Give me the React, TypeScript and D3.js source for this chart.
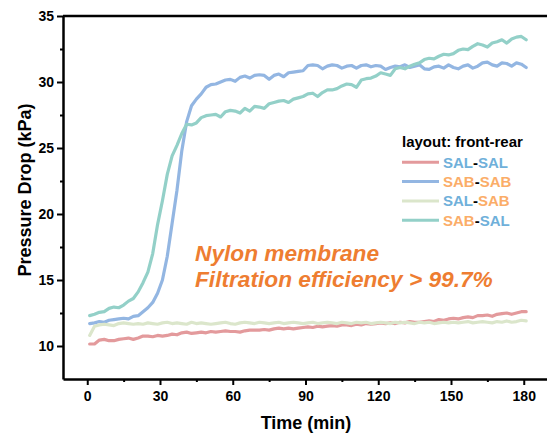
import React, { useEffect, useRef } from 'react';
import * as d3 from 'd3';

// sampling times (min)
const times = d3.range(1, 182, 2);

const salSal = [
  10.15, 10.15, 10.45, 10.5, 10.4, 10.4, 10.5, 10.55, 10.6, 10.5,
  10.6, 10.75, 10.75, 10.7, 10.8, 10.75, 10.8, 10.9, 10.85, 11.0,
  11.05, 10.95, 11.0, 11.05, 11.0, 11.1, 11.05, 11.1, 11.15, 11.1,
  11.1, 11.05, 11.15, 11.2, 11.2, 11.2, 11.25, 11.2, 11.3, 11.35,
  11.3, 11.35, 11.3, 11.35, 11.4, 11.45, 11.4, 11.5, 11.45, 11.5,
  11.55, 11.5, 11.6, 11.6, 11.55, 11.65, 11.6, 11.7, 11.65, 11.7,
  11.75, 11.7, 11.75, 11.7, 11.8, 11.75, 11.85, 11.8, 11.8, 11.85,
  11.9, 11.85, 12.0, 11.95, 12.05, 12.1, 12.05, 12.15, 12.2, 12.15,
  12.3, 12.3, 12.35, 12.25, 12.4, 12.45, 12.5, 12.4, 12.5, 12.6,
  12.6
];

const sabSab = [
  11.7, 11.75, 11.85, 11.8, 11.95, 12.0, 12.05, 12.1, 12.05, 12.25,
  12.3, 12.6, 12.9, 13.3, 14.0, 15.0, 16.8, 19.3, 21.8, 24.8,
  27.0, 28.2, 28.7, 29.1, 29.6, 29.8, 29.85, 30.0, 30.15, 30.2,
  30.05, 30.35, 30.45, 30.3, 30.5, 30.55, 30.5, 30.2, 30.5, 30.6,
  30.4, 30.7, 30.75, 30.8, 30.85, 31.25, 31.3, 31.25, 31.0, 31.2,
  31.3, 31.25, 31.05, 31.2, 31.25, 31.05, 31.25, 31.3, 31.15, 31.25,
  31.2, 30.95, 31.1, 31.2, 31.15, 31.3, 31.1, 31.2, 31.3, 31.0,
  30.95, 31.15, 31.2, 31.05, 31.3, 31.1, 31.0, 31.2, 31.3, 31.05,
  31.2, 31.45, 31.5, 31.3, 31.2, 31.45, 31.4, 31.2, 31.45, 31.35,
  31.1
];

const salSab = [
  10.8, 11.5, 11.6, 11.65, 11.6, 11.55, 11.7, 11.75, 11.7, 11.65,
  11.7, 11.65, 11.75, 11.7, 11.65, 11.75, 11.8, 11.7, 11.75, 11.7,
  11.65, 11.8, 11.7, 11.75, 11.7, 11.65, 11.7, 11.75, 11.8, 11.7,
  11.65, 11.75, 11.8, 11.75, 11.7, 11.8, 11.75, 11.7, 11.75, 11.8,
  11.7, 11.75, 11.8, 11.75, 11.7, 11.75, 11.8, 11.7, 11.75, 11.8,
  11.75, 11.7, 11.8, 11.75, 11.7, 11.8, 11.75, 11.8, 11.7, 11.75,
  11.8, 11.75, 11.7, 11.8, 11.75, 11.8, 11.75, 11.7, 11.8, 11.75,
  11.8, 11.7, 11.75, 11.8, 11.75, 11.8, 11.75, 11.8, 11.85, 11.75,
  11.8, 11.85, 11.8, 11.75, 11.85, 11.8, 11.9, 11.8, 11.85, 11.95,
  11.9
];

const sabSal = [
  12.3, 12.4, 12.55, 12.6, 12.85, 12.95, 12.9, 13.1, 13.4, 13.6,
  14.1, 14.8, 15.6, 17.0, 19.2, 21.0, 23.0, 24.4, 25.2, 26.1,
  26.8, 26.75, 26.9, 27.3, 27.45, 27.5, 27.55, 27.35, 27.75, 27.85,
  27.8, 27.65, 28.0, 27.8, 28.15, 28.1, 28.0, 28.35, 28.45, 28.55,
  28.6, 28.45, 28.7, 28.8, 28.9, 29.1, 29.15, 28.9, 29.2, 29.4,
  29.4, 29.5, 29.7, 29.85, 29.8, 29.6, 30.15, 30.25, 30.3, 30.45,
  30.7, 30.6, 30.5, 31.0, 31.1, 31.0, 31.2, 31.35, 31.45, 31.7,
  31.8, 31.75, 31.95, 32.1, 32.05, 32.15, 32.4, 32.5, 32.45, 32.7,
  32.9, 32.8, 32.65, 32.95, 33.05, 33.2, 32.95, 33.25, 33.4, 33.45,
  33.2
];

const xTicks = [0, 30, 60, 90, 120, 150, 180];
const yTicks = [10, 15, 20, 25, 30, 35];

const SAL = '#6fb0da';
const SAB = '#fbad68';

const series = [
  { name: ['SAL', 'SAL'], values: salSal, color: '#e39a9c' },
  { name: ['SAB', 'SAB'], values: sabSab, color: '#93b6e2' },
  { name: ['SAL', 'SAB'], values: salSab, color: '#dbe6cb' },
  { name: ['SAB', 'SAL'], values: sabSal, color: '#93d0c8' },
];

const W = 547;
const H = 436;
const FONT = 'Arial, "Liberation Sans", sans-serif';

export default function App() {
  const svgRef = useRef<SVGSVGElement>(null);

  useEffect(() => {
    if (!svgRef.current) return;
    const svg = d3.select(svgRef.current);
    svg.selectAll('*').remove();

    const x = d3.scaleLinear().domain([-10, 190]).range([63, 548]);
    const y = d3.scaleLinear().domain([7.5, 35]).range([379, 16]);

    const line = d3.line<number>()
      .x((_, i) => x(times[i]))
      .y(d => y(d));

    series.forEach(s => {
      svg.append('path')
        .datum(s.values)
        .attr('fill', 'none')
        .attr('stroke', s.color)
        .attr('stroke-width', 3.2)
        .attr('stroke-linejoin', 'round')
        .attr('stroke-linecap', 'round')
        .attr('d', line);
    });

    // top border (right edge is off canvas)
    svg.append('line')
      .attr('x1', 63).attr('x2', 548)
      .attr('y1', 16).attr('y2', 16)
      .attr('stroke', '#000').attr('stroke-width', 2.3);

    // axes
    const xMinor = svg.append('g').attr('transform', 'translate(0,379)')
      .call(d3.axisBottom(x).tickValues([15, 45, 75, 105, 135, 165]).tickSize(3).tickFormat(() => ''));
    xMinor.select('.domain').remove();
    const xMajor = svg.append('g').attr('transform', 'translate(0,379)')
      .call(d3.axisBottom(x).tickValues(xTicks).tickSize(6).tickPadding(6).tickSizeOuter(0));
    xMajor.select('.domain').attr('stroke-width', 2.5);

    const yMinor = svg.append('g').attr('transform', 'translate(63,0)')
      .call(d3.axisLeft(y).tickValues([12.5, 17.5, 22.5, 27.5, 32.5]).tickSize(3).tickFormat(() => ''));
    yMinor.select('.domain').remove();
    const yMajor = svg.append('g').attr('transform', 'translate(63,0)')
      .call(d3.axisLeft(y).tickValues(yTicks).tickSize(6).tickPadding(3).tickSizeOuter(0));
    yMajor.select('.domain').attr('stroke-width', 2.5);

    svg.selectAll('.tick line').attr('stroke-width', 2);
    svg.selectAll('.tick text')
      .attr('font-family', FONT)
      .attr('font-size', 14)
      .attr('font-weight', 'bold')
      .attr('fill', '#000');

    // axis titles
    svg.append('text')
      .attr('x', 306).attr('y', 429)
      .attr('text-anchor', 'middle')
      .attr('font-family', FONT).attr('font-size', 18).attr('font-weight', 'bold')
      .text('Time (min)');
    svg.append('text')
      .attr('transform', 'translate(31,190) rotate(-90)')
      .attr('text-anchor', 'middle')
      .attr('font-family', FONT).attr('font-size', 18).attr('font-weight', 'bold')
      .text('Pressure Drop (kPa)');

    // legend
    svg.append('text')
      .attr('x', 402).attr('y', 147)
      .attr('font-family', FONT).attr('font-size', 15).attr('font-weight', 'bold')
      .text('layout: front-rear');
    series.forEach((s, i) => {
      const ly = 162.3 + i * 19.3;
      svg.append('line')
        .attr('x1', 402).attr('x2', 439)
        .attr('y1', ly).attr('y2', ly)
        .attr('stroke', s.color).attr('stroke-width', 3);
      const t = svg.append('text')
        .attr('x', 443).attr('y', ly + 5.5)
        .attr('font-family', FONT).attr('font-size', 15).attr('font-weight', 'bold');
      t.append('tspan').attr('fill', s.name[0] === 'SAL' ? SAL : SAB).text(s.name[0]);
      t.append('tspan').attr('fill', '#000').text('-');
      t.append('tspan').attr('fill', s.name[1] === 'SAL' ? SAL : SAB).text(s.name[1]);
    });

    // annotation
    const note = ['Nylon membrane', 'Filtration efficiency > 99.7%'];
    note.forEach((n, i) => {
      svg.append('text')
        .attr('x', 195).attr('y', 260.7 + i * 26.7)
        .attr('font-family', FONT).attr('font-size', 22.7)
        .attr('font-weight', 'bold').attr('font-style', 'italic')
        .attr('fill', '#ee7d31')
        .text(n);
    });
  }, []);

  return (
    <div style={{ position: 'absolute', left: 0, top: 0 }}>
      <svg ref={svgRef} width={W} height={H} style={{ display: 'block', background: '#fff' }} />
    </div>
  );
}
